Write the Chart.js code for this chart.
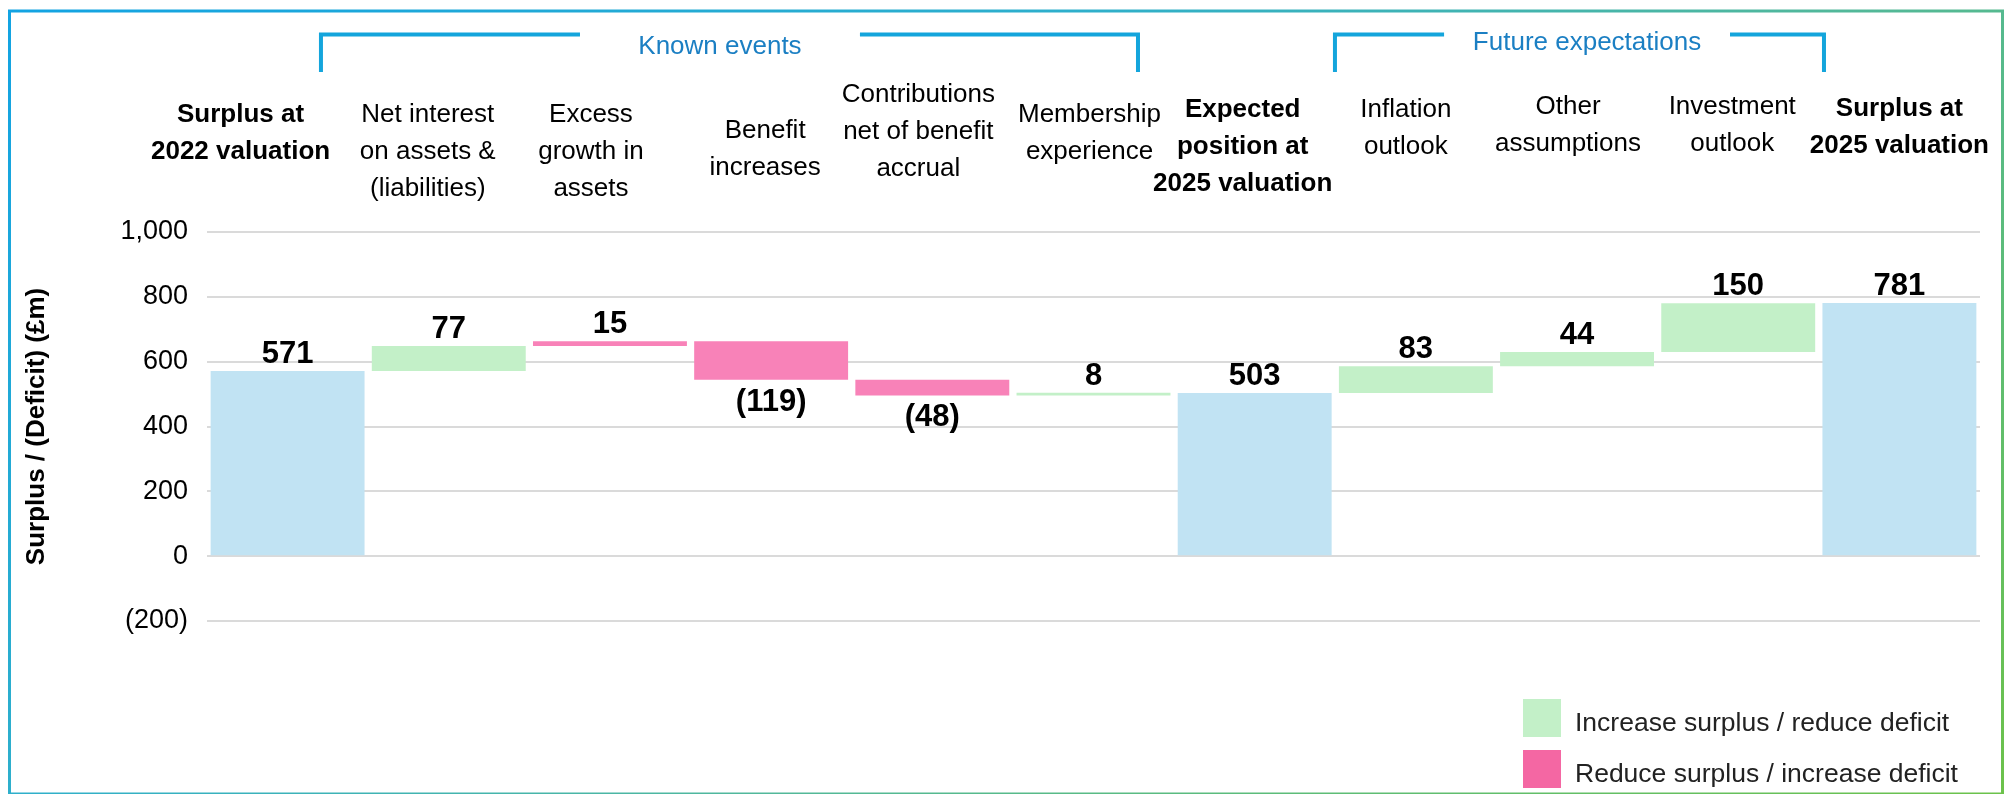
<!DOCTYPE html>
<html>
<head>
<meta charset="utf-8">
<script src="https://cdn.jsdelivr.net/npm/chart.js@4.4.1/dist/chart.umd.min.js"></script>
<style>
  html, body { margin: 0; padding: 0; background: #ffffff; }
  #wrap { width: 2011px; height: 794px; position: relative; }
  canvas { display: block; }
</style>
</head>
<body>
<div id="wrap"><canvas id="c" width="2011" height="794"></canvas></div>
<script>
// ---------------- DATA ----------------
const categories = [
  ['Surplus at', '2022 valuation'],
  ['Net interest', 'on assets &', '(liabilities)'],
  ['Excess', 'growth in', 'assets'],
  ['Benefit', 'increases'],
  ['Contributions', 'net of benefit', 'accrual'],
  ['Membership', 'experience'],
  ['Expected', 'position at', '2025 valuation'],
  ['Inflation', 'outlook'],
  ['Other', 'assumptions'],
  ['Investment', 'outlook'],
  ['Surplus at', '2025 valuation']
];
const values = [571, 77, 15, -119, -48, 8, 503, 83, 44, 150, 781];
const barKinds = ['total', 'delta', 'delta', 'delta', 'delta', 'delta', 'total', 'delta', 'delta', 'delta', 'total'];
const barColourKeys = ['total', 'up', 'down', 'down', 'down', 'up', 'total', 'up', 'up', 'up', 'total'];
const yTickValues = [-200, 0, 200, 400, 600, 800, 1000];
const yAxisTitle = 'Surplus / (Deficit) (£m)';
const groupNames = ['Known events', 'Future expectations'];
const legendLabels = ['Increase surplus / reduce deficit', 'Reduce surplus / increase deficit'];
const legendKeys = ['up', 'legendDown'];

// ---------------- STYLE ----------------
const FONT = "'Liberation Sans', Arial, Helvetica, sans-serif";
const palette = {
  total: '#c1e3f3',
  up: '#c3f0c8',
  down: '#f882b8',
  legendDown: '#f467a3'
};

// floating bars built from the values (running total for deltas)
let running = 0;
const floating = values.map((v, i) => {
  if (barKinds[i] === 'total') { running = v; return [0, v]; }
  const start = running; running += v; return [start, running];
});

const fmt = v => v < 0 ? '(' + Math.abs(v).toLocaleString('en-GB') + ')' : v.toLocaleString('en-GB');

// ---------------- PLUGINS ----------------
const framePlugin = {
  id: 'frame',
  beforeDraw(chart) {
    const { ctx } = chart;
    ctx.save();
    ctx.fillStyle = '#ffffff';
    ctx.fillRect(0, 0, chart.width, chart.height);
    const g = ctx.createLinearGradient(0, 0, 1081, 1475);
    g.addColorStop(0, '#12a3e3');
    g.addColorStop(0.35, '#2eafcc');
    g.addColorStop(0.6, '#52b89a');
    g.addColorStop(1, '#6cc24a');
    ctx.strokeStyle = g;
    ctx.lineWidth = 3;
    ctx.strokeRect(9.5, 11, 1993, 783);
    ctx.restore();
  }
};

// small per-label nudges of the category tick labels (drawn by the x axis itself)
const labelNudgePlugin = {
  id: 'labelNudge',
  beforeDraw(chart, args, opts) {
    const items = chart.scales.x.getLabelItems();
    if (items._nudged) return;
    items.forEach((it, i) => {
      it.options.translation[0] += opts.dx[i] || 0;
      it.options.translation[1] += opts.dy[i] || 0;
    });
    items._nudged = true;
  }
};

const bracketPlugin = {
  id: 'brackets',
  afterDraw(chart, args, opts) {
    const { ctx } = chart;
    const x = chart.scales.x;
    ctx.save();
    ctx.strokeStyle = opts.color;
    ctx.lineWidth = opts.lineWidth;
    ctx.lineJoin = 'miter';
    ctx.lineCap = 'butt';
    opts.groups.forEach((g, i) => {
      const x1 = x.getPixelForValue(g.from), x2 = x.getPixelForValue(g.to);
      const a = x.getPixelForValue(g.gapFrom), b = x.getPixelForValue(g.gapTo);
      ctx.beginPath();
      ctx.moveTo(x1, opts.bottom); ctx.lineTo(x1, opts.top); ctx.lineTo(a, opts.top);
      ctx.moveTo(b, opts.top); ctx.lineTo(x2, opts.top); ctx.lineTo(x2, opts.bottom);
      ctx.stroke();
      ctx.fillStyle = opts.textColor;
      ctx.font = opts.font;
      ctx.textAlign = 'center';
      ctx.textBaseline = 'middle';
      ctx.fillText(groupNames[i], (a + b) / 2, g.textY);
    });
    ctx.restore();
  }
};

const valueLabelPlugin = {
  id: 'valueLabels',
  afterDatasetsDraw(chart) {
    const { ctx } = chart;
    const meta = chart.getDatasetMeta(0);
    ctx.save();
    ctx.font = 'bold 31px ' + FONT;
    ctx.fillStyle = '#000000';
    ctx.textAlign = 'center';
    ctx.textBaseline = 'alphabetic';
    meta.data.forEach((bar, i) => {
      const v = values[i];
      const top = Math.min(bar.y, bar.base), bottom = Math.max(bar.y, bar.base);
      if (v >= 0) ctx.fillText(fmt(v), bar.x, top - 8);
      else ctx.fillText(fmt(v), bar.x, bottom + 31);
    });
    ctx.restore();
  }
};

const boxLegendPlugin = {
  id: 'boxLegend',
  afterDraw(chart, args, opts) {
    const { ctx } = chart;
    ctx.save();
    ctx.font = opts.font;
    ctx.textAlign = 'left';
    ctx.textBaseline = 'middle';
    legendLabels.forEach((lab, i) => {
      const y = opts.top + i * opts.rowStep;
      ctx.fillStyle = palette[legendKeys[i]];
      ctx.fillRect(opts.left, y, opts.box, opts.box);
      ctx.fillStyle = opts.color;
      ctx.fillText(lab, opts.left + opts.box + opts.gap, y + opts.box / 2 + 6);
    });
    ctx.restore();
  }
};

// ---------------- CHART ----------------
new Chart(document.getElementById('c'), {
  type: 'bar',
  data: {
    labels: categories,
    datasets: [{
      data: floating,
      backgroundColor: barColourKeys.map(k => palette[k]),
      borderWidth: 0,
      barPercentage: 0.955,
      categoryPercentage: 1.0
    }]
  },
  options: {
    responsive: false,
    animation: false,
    devicePixelRatio: 1,
    layout: { padding: { left: 10, right: 31, top: 0, bottom: 173 } },
    plugins: {
      legend: { display: false },
      tooltip: { enabled: false },
      labelNudge: {
        dx: [-47, -21, -19, -6, -14, -4, -12, -10, -9, -6, 0],
        dy: [3, 3, 3, 19, -17, 3, -2, -2, -5, -5, -3]
      },
      brackets: {
        color: '#14a5dc', lineWidth: 4, top: 34.5, bottom: 72,
        textColor: '#1b7fc3', font: '26px ' + FONT,
        groups: [
          { from: 0.207, to: 5.276, gapFrom: 1.814, gapTo: 3.551, textY: 47 },
          { from: 6.498, to: 9.532, gapFrom: 7.175, gapTo: 8.949, textY: 43 }
        ]
      },
      boxLegend: {
        left: 1523, top: 699, box: 38, rowStep: 51, gap: 14,
        font: '26.5px ' + FONT, color: '#222222'
      }
    },
    scales: {
      x: {
        position: 'top',
        offset: true,
        grid: { display: false, drawTicks: false, tickLength: 0 },
        border: { display: false },
        ticks: {
          autoSkip: false, maxRotation: 0, minRotation: 0,
          crossAlign: 'far',
          padding: 27.5,
          color: '#000000',
          font: c => ({ family: FONT, size: 26, lineHeight: 1.423,
                         weight: barKinds[c.index] === 'total' ? 'bold' : 'normal' })
        },
        afterFit(s) { s.height = 232; s.paddingLeft = 0; s.paddingRight = 0; }
      },
      y: {
        min: -200, max: 1000,
        grid: { color: '#dadada', lineWidth: 2, drawTicks: false, tickLength: 0 },
        border: { display: false },
        afterBuildTicks(s) { s.ticks = yTickValues.map(v => ({ value: v })); },
        ticks: {
          padding: 19,
          color: '#000000',
          font: { family: FONT, size: 27 },
          callback: v => fmt(v)
        },
        title: {
          display: true, text: yAxisTitle, color: '#000000',
          font: { family: FONT, size: 26, weight: 'bold', lineHeight: 1.2 },
          padding: { top: 11, bottom: 0 }
        },
        afterFit(s) { s.width = 197; s.paddingTop = 0; s.paddingBottom = 0; }
      }
    }
  },
  plugins: [framePlugin, labelNudgePlugin, bracketPlugin, valueLabelPlugin, boxLegendPlugin]
});
</script>
</body>
</html>
